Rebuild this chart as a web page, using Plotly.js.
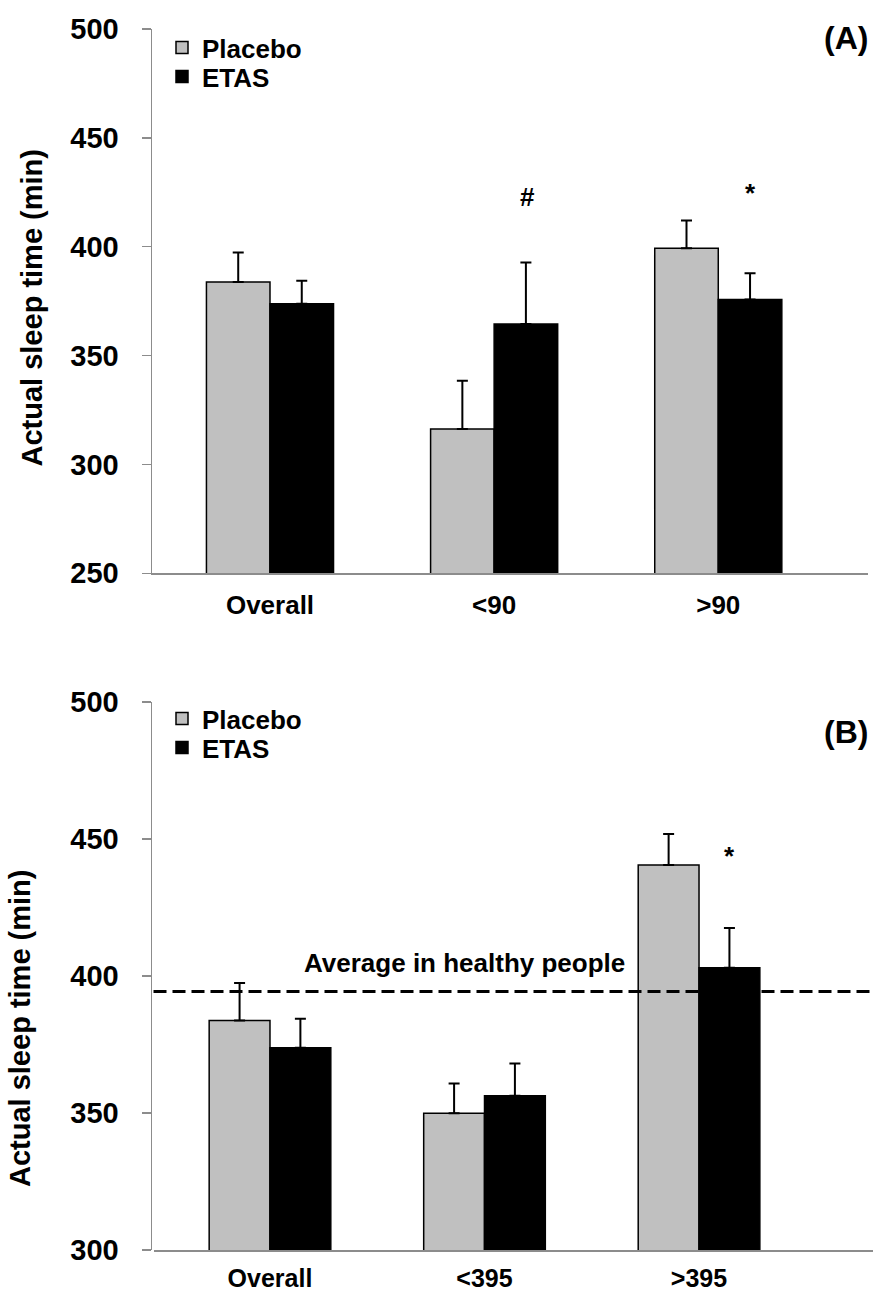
<!DOCTYPE html>
<html>
<head>
<meta charset="utf-8">
<script src="https://cdn.plot.ly/plotly-3.0.1.min.js"></script>
<style>html,body{margin:0;padding:0;background:#fff;}#chart{width:873px;height:1295px;}</style>
</head>
<body>
<div id="chart"></div>
<script>
// Panel A data
const categoriesA = ['Overall', '<90', '>90'];
const placeboA = [383.8, 316.3, 399.3];
const placeboA_se = [13.6, 22.1, 12.8];
const etasA = [373.8, 364.5, 375.8];
const etasA_se = [10.6, 28.2, 12.0];

// Panel B data
const categoriesB = ['Overall', '<395', '>395'];
const placeboB = [383.8, 349.9, 440.5];
const placeboB_se = [13.6, 10.9, 11.3];
const etasB = [373.8, 356.3, 403.0];
const etasB_se = [10.6, 11.8, 14.5];

const avgHealthy = 394.3;
const yTicksA = [250, 300, 350, 400, 450, 500];
const yTicksB = [300, 350, 400, 450, 500];

const FONT = '"Liberation Sans", Arial, Helvetica, sans-serif';
const GRAY = '#c0c0c0';
const AXIS = '#8c8c8c';
const zeros = n => n.map(() => 0);

function barTrace(x, y, se, name, color, xa, ya, legend) {
  return {
    type: 'bar', x: x, y: y, name: name, xaxis: xa, yaxis: ya,
    legend: legend, showlegend: true,
    marker: {color: color, line: {color: '#000', width: 1.5}},
    error_y: {type: 'data', symmetric: false, array: se, arrayminus: zeros(se),
              color: '#000', thickness: 2, width: 5.5, visible: true}
  };
}

const traces = [
  barTrace(categoriesA, placeboA, placeboA_se, 'Placebo', GRAY, 'x', 'y', 'legend'),
  barTrace(categoriesA, etasA, etasA_se, 'ETAS', '#000', 'x', 'y', 'legend2'),
  barTrace(categoriesB, placeboB, placeboB_se, 'Placebo', GRAY, 'x2', 'y2', 'legend3'),
  barTrace(categoriesB, etasB, etasB_se, 'ETAS', '#000', 'x2', 'y2', 'legend4')
];

const H = 1295, T = 29, B = 45;
const plotH = H - T - B;
const py = p => (H - B - p) / plotH; // pixel y -> paper y
const px = p => p / 873;

const tickFont = {family: FONT, size: 29, color: '#000', weight: 'bold'};

function yAxis(domain, range, ticks) {
  return {
    domain: domain, range: range, tickvals: ticks, ticktext: ticks.map(String),
    showgrid: false, zeroline: false, showline: true, linecolor: AXIS, linewidth: 1.5,
    ticks: 'outside', ticklen: 9, tickwidth: 1.5, tickcolor: AXIS,
    tickfont: tickFont, ticklabelstandoff: 17, fixedrange: true
  };
}
function xAxis(domain, range, anchor, fsize, standoff) {
  return {
    domain: domain, range: range, anchor: anchor, type: 'category',
    showgrid: false, zeroline: false, showline: true, linecolor: AXIS, linewidth: 1.5,
    ticks: '', tickfont: {family: FONT, size: fsize, color: '#000', weight: 'bold'},
    ticklabelstandoff: standoff, fixedrange: true
  };
}
function legendAt(top) {
  return {x: px(162), y: py(top), xanchor: 'left', yanchor: 'top',
          bgcolor: 'rgba(0,0,0,0)', font: {family: FONT, size: 26, weight: 'bold', color: '#000'},
          itemwidth: 30};
}

const layout = {
  width: 873, height: H,
  margin: {l: 0, r: 0, t: T, b: B},
  paper_bgcolor: '#fff', plot_bgcolor: 'rgba(0,0,0,0)',
  barmode: 'group', bargap: 0.433, bargroupgap: 0,
  font: {family: FONT, color: '#000'},
  xaxis: xAxis([px(152), px(868)], [-0.5264, 2.668], 'y', 26, 8),
  yaxis: yAxis([py(573.3), 1], [250, 500], yTicksA),
  xaxis2: xAxis([px(153.5), 1], [-0.543, 2.811], 'y2', 25, 5),
  yaxis2: yAxis([0, py(702)], [300, 500], yTicksB),
  legend: legendAt(24),
  legend2: legendAt(53),
  legend3: legendAt(695),
  legend4: legendAt(724),
  shapes: [{type: 'line', xref: 'x2 domain', yref: 'y2', x0: 0, x1: 1, y0: avgHealthy, y1: avgHealthy,
            line: {color: '#000', width: 3, dash: '13px,6px'}, layer: 'above'}],
  annotations: [
    {text: 'Actual sleep time (min)', textangle: -90, xref: 'paper', yref: 'paper',
     x: px(31), y: py(308.5), xanchor: 'center', yanchor: 'middle', showarrow: false,
     font: {family: FONT, size: 29, weight: 'bold', color: '#000'}},
    {text: 'Actual sleep time (min)', textangle: -90, xref: 'paper', yref: 'paper',
     x: px(20), y: py(1029), xanchor: 'center', yanchor: 'middle', showarrow: false,
     font: {family: FONT, size: 29, weight: 'bold', color: '#000'}},
    {text: '(A)', xref: 'paper', yref: 'paper', x: px(870), y: py(38), xanchor: 'right', yanchor: 'middle',
     showarrow: false, font: {family: FONT, size: 32, weight: 'bold', color: '#000'}},
    {text: '(B)', xref: 'paper', yref: 'paper', x: px(870), y: py(732), xanchor: 'right', yanchor: 'middle',
     showarrow: false, font: {family: FONT, size: 32, weight: 'bold', color: '#000'}},
    {text: '#', xref: 'x', yref: 'y', x: categoriesA[1], y: 422.9, xshift: 33, xanchor: 'center', yanchor: 'middle',
     showarrow: false, font: {family: FONT, size: 26, weight: 'bold', color: '#000'}},
    {text: '*', xref: 'x', yref: 'y', x: categoriesA[2], y: 424.5, xshift: 32, xanchor: 'center', yanchor: 'middle',
     showarrow: false, font: {family: FONT, size: 26, weight: 'bold', color: '#000'}},
    {text: '*', xref: 'x2', yref: 'y2', x: categoriesB[2], y: 443.8, xshift: 30, xanchor: 'center', yanchor: 'middle',
     showarrow: false, font: {family: FONT, size: 26, weight: 'bold', color: '#000'}},
    {text: 'Average in healthy people', xref: 'paper', yref: 'y2', x: px(464.5), y: 404.7,
     xanchor: 'center', yanchor: 'middle', showarrow: false,
     font: {family: FONT, size: 26, weight: 'bold', color: '#000'}}
  ]
};

Plotly.newPlot('chart', traces, layout, {staticPlot: true, displayModeBar: false});
</script>
</body>
</html>
